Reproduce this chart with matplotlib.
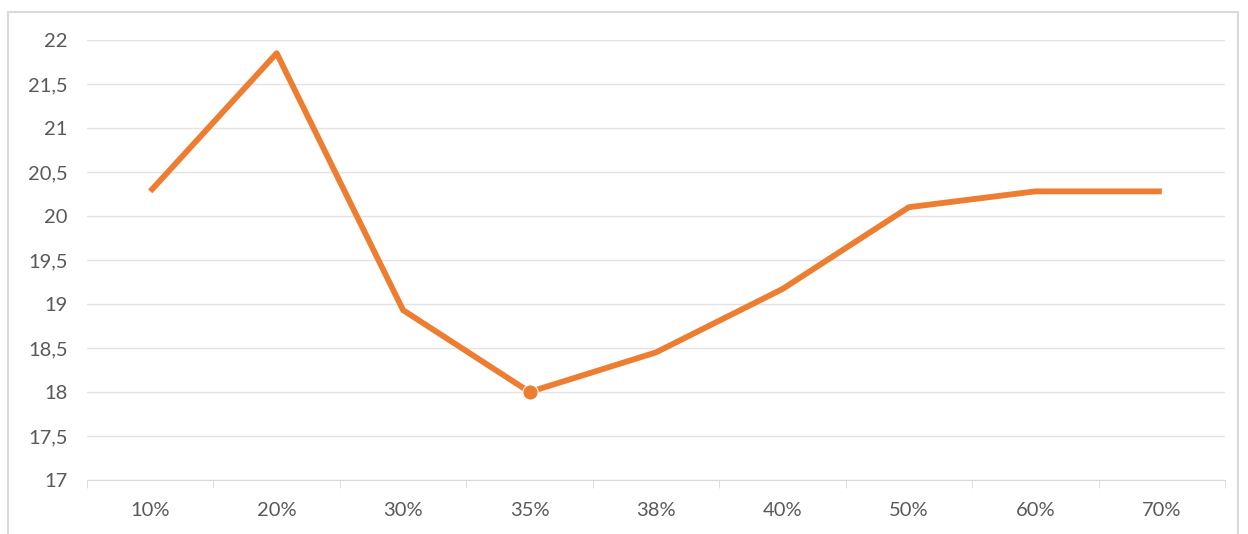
import matplotlib
matplotlib.use('Agg')
import matplotlib.pyplot as plt
import numpy as np
from matplotlib.patches import Rectangle

plt.rcParams['font.family'] = ['Lato', 'DejaVu Sans']

# data
categories = ['10%', '20%', '30%', '35%', '38%', '40%', '50%', '60%', '70%']
values = [20.28, 21.85, 18.93, 18.0, 18.45, 19.17, 20.1, 20.28, 20.28]
marked = ['35%']
y_ticks = [17, 17.5, 18, 18.5, 19, 19.5, 20, 20.5, 21, 21.5, 22]

ORANGE = '#ED7D31'
GRID = '#E3E3E3'
TEXT = '#595959'

fig = plt.figure(figsize=(12.48, 5.34), dpi=100)
fig.patch.set_facecolor('white')

# faint frame around the chart area
fig.patches.append(Rectangle((8 / 1248, -0.01), 1230 / 1248, (534 - 12) / 534 + 0.01,
                             transform=fig.transFigure, fill=False,
                             edgecolor='#D9D9D9', lw=1.5))

ax = fig.add_axes([87 / 1248, 54 / 534, 1138 / 1248, 440 / 534])
x = np.arange(len(categories))

ax.plot(x, values, color=ORANGE, lw=4.2, solid_joinstyle='round',
        solid_capstyle='butt', zorder=3)
mx = [i for i, c in enumerate(categories) if c in marked]
ax.plot(mx, [values[i] for i in mx], 'o', color=ORANGE, ms=11,
        mec='white', mew=0.8, zorder=4)

ax.set_xlim(-0.5, len(categories) - 0.5)
ax.set_ylim(17, 22)
ax.set_yticks(y_ticks)
ax.set_yticklabels([('%g' % v).replace('.', ',') for v in y_ticks])
ax.set_xticks(x)
ax.set_xticklabels(categories)
ax.set_xticks(np.arange(-0.5, len(categories)), minor=True)

ax.grid(axis='y', color=GRID, lw=1)
ax.set_axisbelow(True)
for s in ['top', 'right', 'left']:
    ax.spines[s].set_visible(False)
ax.spines['bottom'].set_color('#D9D9D9')
ax.tick_params(axis='y', length=0, pad=14, labelsize=14.5, labelcolor=TEXT)
ax.tick_params(axis='x', which='major', length=0, pad=16, labelsize=14.5,
               labelcolor=TEXT)
ax.tick_params(axis='x', which='minor', length=6, color='#D9D9D9')

fig.savefig('out.png', dpi=100)
